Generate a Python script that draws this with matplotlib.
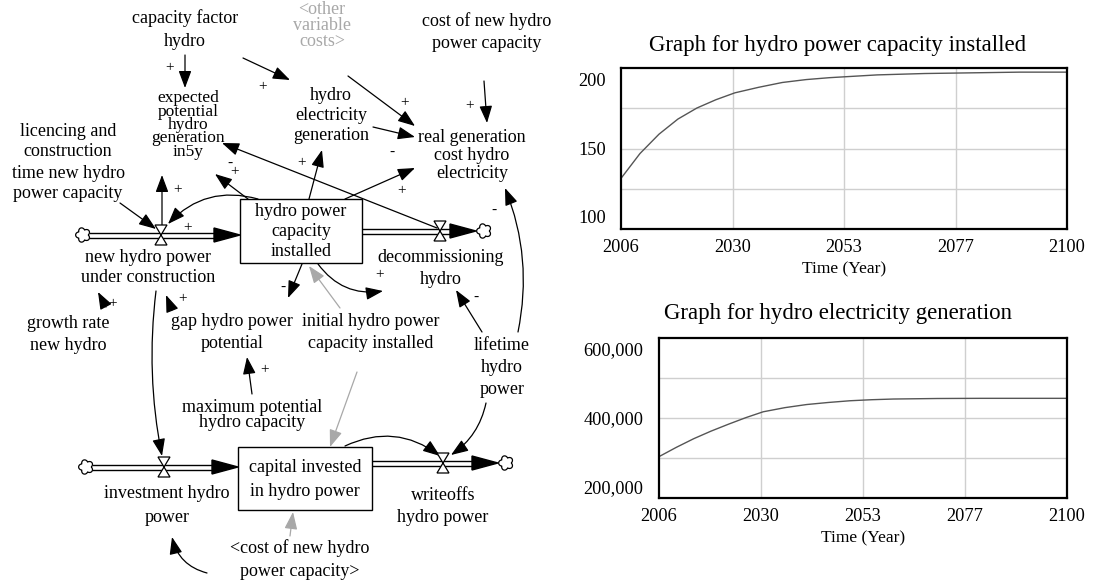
import numpy as np
import matplotlib
matplotlib.use("Agg")
from matplotlib import pyplot as plt
from matplotlib.patches import Rectangle, Polygon

plt.rcParams['font.family'] = ['Liberation Serif', 'DejaVu Serif']

# simulation output
years = [2006, 2010, 2014, 2018, 2022, 2026, 2030, 2035, 2040, 2045,
         2050, 2055, 2060, 2070, 2080, 2090, 2100]
capacity = [128, 146, 160, 171, 179, 185, 190, 194, 197.5, 199.6,
            201, 202, 203, 204, 204.5, 205, 205]
generation = [288000, 315000, 340000, 362000, 382000, 401000, 418000,
              430000, 439000, 445000, 450000, 453000, 455000, 456500,
              457000, 457000, 457000]
x_ticks = [2006, 2029.5, 2053, 2076.5, 2100]
x_labels = ["2006", "2030", "2053", "2077", "2100"]
cap_ticks = [100, 150, 200]
gen_ticks = [200000, 400000, 600000]

GREY = "#a8a8a8"
FS = 13

fig = plt.figure(figsize=(11.15, 5.81), dpi=100)

# ---------- stock and flow diagram (pixel coordinates) ----------
ax = fig.add_axes([0, 0, 1, 1])
ax.set_xlim(0, 1115)
ax.set_ylim(581, 0)
ax.axis("off")


def label(x, y, text, step=21, color="black", size=FS):
    for i, line in enumerate(text.split("\n")):
        ax.text(x, y + i * step, line, ha="center", va="center",
                fontsize=size, color=color)


def sign(x, y, s):
    ax.text(x, y, s, ha="center", va="center", fontsize=11)


def arrow(p0, p1, rad=0.0, color="black"):
    ax.annotate("", xy=p1, xytext=p0,
                arrowprops=dict(arrowstyle="-|>,head_length=0.75,head_width=0.28",
                                mutation_scale=14, color=color, lw=0.9,
                                shrinkA=0, shrinkB=0,
                                connectionstyle="arc3,rad=%s" % rad))


def cloud(x, y, r=7):
    t = np.linspace(0, 2 * np.pi, 200)
    rr = r * (0.75 + 0.3 * np.abs(np.sin(2.5 * t)))
    ax.fill(x + rr * np.cos(t), y + rr * np.sin(t), facecolor="white",
            edgecolor="black", lw=0.9, zorder=3)


def valve(x, y, w=6, h=10):
    ax.add_patch(Polygon([(x - w, y - h), (x + w, y - h), (x - w, y + h),
                          (x + w, y + h)], closed=True, facecolor="white",
                         edgecolor="black", lw=0.9, zorder=4))


def pipe(x0, x1, y, xv, head=26):
    ax.plot([x0, x1 - head + 2], [y - 2.5, y - 2.5], color="black", lw=1, zorder=2)
    ax.plot([x0, x1 - head + 2], [y + 2.5, y + 2.5], color="black", lw=1, zorder=2)
    ax.add_patch(Polygon([(x1 - head, y - 7), (x1, y), (x1 - head, y + 7)],
                         closed=True, color="black", zorder=3))
    valve(xv, y)


def stock(x0, y0, x1, y1):
    ax.add_patch(Rectangle((x0, y0), x1 - x0, y1 - y0, facecolor="white",
                           edgecolor="black", lw=1, zorder=3))


# flows
cloud(83, 235)
pipe(90, 240, 235, 161)
stock(240, 199, 362, 263)
pipe(362, 476, 231, 440)
cloud(484, 231)

cloud(86, 467)
pipe(93, 238, 467, 164)
stock(238, 447, 372, 510)
pipe(372, 498, 463, 443)
cloud(506, 463)

# texts
label(185, 18, "capacity factor\nhydro", step=24)
label(322, 9, "<other\nvariable\ncosts>", step=16, color=GREY)
label(487, 21, "cost of new hydro\npower capacity", step=23)
label(188, 98, "expected\npotential\nhydro\ngeneration\nin5y", step=13.5, size=12.5)
label(68, 131, "licencing and\nconstruction\ntime new hydro\npower capacity")
label(331, 96, "hydro\nelectricity\ngeneration", step=20)
label(472, 137, "real generation\ncost hydro\nelectricity", step=18.5)
label(301, 212, "hydro power\ncapacity\ninstalled", step=20)
label(148, 257, "new hydro power\nunder construction")
label(441, 257, "decommissioning\nhydro", step=22)
label(232, 321, "gap hydro power\npotential", step=22)
label(371, 322, "initial hydro power\ncapacity installed", step=22)
label(68, 324, "growth rate\nnew hydro", step=22)
label(502, 345, "lifetime\nhydro\npower", step=22)
label(252, 408, "maximum potential\nhydro capacity", step=14.5)
label(305, 468, "capital invested\nin hydro power", step=23)
label(167, 493, "investment hydro\npower", step=25)
label(443, 495, "writeoffs\nhydro power", step=23)
label(300, 548, "<cost of new hydro\npower capacity>", step=24)

# causal links
arrow((185, 55), (185, 88)); sign(170, 68, "+")
arrow((243, 58), (290, 80)); sign(263, 87, "+")
arrow((348, 76), (415, 126)); sign(405, 103, "+")
arrow((484, 81), (487, 123)); sign(470, 106, "+")
arrow((373, 127), (415, 137)); sign(392, 152, "-")
arrow((309, 199), (322, 150)); sign(302, 163, "+")
arrow((345, 199), (415, 168)); sign(402, 191, "+")
arrow((437, 228), (222, 143))
arrow((248, 199), (215, 174)); sign(230, 163, "-"); sign(235, 172, "+")
arrow((258, 199), (168, 224), rad=0.3); sign(188, 228, "+")
arrow((162, 225), (162, 175)); sign(178, 190, "+")
arrow((120, 203), (156, 229))
arrow((106, 307), (98, 292)); sign(113, 304, "+")
arrow((172, 310), (166, 295)); sign(183, 299, "+")
arrow((156, 291), (162, 456), rad=0.08)
arrow((252, 394), (247, 357)); sign(265, 370, "+")
arrow((302, 264), (288, 298)); sign(283, 287, "-")
arrow((318, 264), (383, 291), rad=0.3); sign(380, 275, "+")
arrow((340, 308), (309, 266), color=GREY)
arrow((357, 372), (330, 447), color=GREY)
arrow((482, 332), (456, 290)); sign(476, 297, "-")
arrow((518, 332), (505, 188), rad=0.15); sign(494, 210, "-")
arrow((486, 403), (451, 455), rad=-0.2)
arrow((345, 446), (440, 456), rad=-0.3)
arrow((207, 573), (172, 537), rad=-0.3)
arrow((290, 536), (293, 512), color=GREY)


# ---------- graphs ----------
def graph(rect, values, ylim, yticks, ylabels, title, title_y):
    g = fig.add_axes(rect)
    q = (ylim[1] - ylim[0]) / 4
    for k in (1, 2, 3):
        g.axhline(ylim[0] + k * q, color="#cfcfcf", lw=1, zorder=0)
    for xt in x_ticks[1:-1]:
        g.axvline(xt, color="#cfcfcf", lw=1, zorder=0)
    g.plot(years, values, color="#555555", lw=1)
    g.set_xlim(2006, 2100)
    g.set_ylim(*ylim)
    g.set_xticks(x_ticks)
    g.set_xticklabels(x_labels)
    g.set_yticks(yticks)
    g.set_yticklabels(ylabels)
    g.tick_params(which="both", length=0, labelsize=13.2)
    g.tick_params(axis="x", pad=7)
    g.tick_params(axis="y", pad=11)
    g.set_xlabel("Time (Year)", fontsize=12.5, labelpad=4)
    for s in g.spines.values():
        s.set_linewidth(1.6)
    fig.text(838 / 1115, 1 - title_y / 581, title, ha="center", va="center",
             fontsize=16.5)
    return g


graph([621 / 1115, 1 - 229 / 581, 446 / 1115, 161 / 581], capacity,
      (91.3, 208.0), cap_ticks, [str(v) for v in cap_ticks],
      "Graph for hydro power capacity installed", 45)
graph([659 / 1115, 1 - 498 / 581, 408 / 1115, 160 / 581], generation,
      (168100, 631900), gen_ticks, ["{:,}".format(v) for v in gen_ticks],
      "Graph for hydro electricity generation", 313)

fig.savefig("out.png", dpi=100)
